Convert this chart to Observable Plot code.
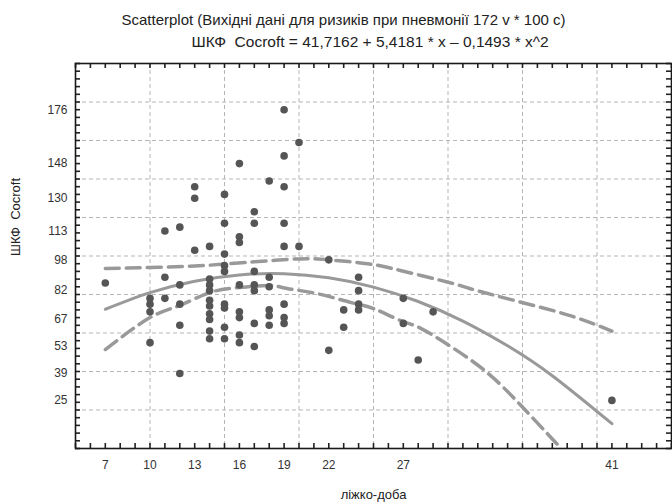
<!DOCTYPE html>
<html><head><meta charset="utf-8">
<script src="https://cdn.jsdelivr.net/npm/d3@7"></script>
<script src="https://cdn.jsdelivr.net/npm/@observablehq/plot@0.6"></script>
<style>
body{margin:0;background:#fff;font-family:"Liberation Sans",Arial,sans-serif;}
</style></head><body><div id="chart"></div>
<script>
const title1 = "Scatterplot (Вихідні дані для ризиків при пневмонії 172 v * 100 c)";
const title2 = "ШКФ\u00A0 Cocroft = 41,7162 + 5,4181 * x – 0,1493 * x^2";
const xLabel = "ліжко-доба";
const yLabel = "ШКФ\u00A0 Cocroft";
const xTickLabels = [7, 10, 13, 16, 19, 22, 27, 41];
const yTickLabels = [25, 39, 53, 67, 82, 98, 113, 130, 148, 176];

// observations: bed-days and ШКФ Cocroft
const pointX = [
  7,
  10, 10, 10, 10,
  11, 11, 11,
  12, 12, 12, 12, 12,
  13, 13, 13,
  14, 14, 14, 14, 14, 14, 14, 14, 14, 14,
  15, 15, 15, 15, 15, 15, 15, 15, 15,
  16, 16, 16, 16, 16, 16, 16, 16,
  17, 17, 17, 17, 17, 17, 17,
  18, 18, 18, 18, 18, 18,
  19, 19, 19, 19, 19, 19, 19, 19,
  20, 20,
  22, 22,
  23, 23,
  24, 24, 24, 24,
  27, 27,
  28,
  29,
  41
];
const pointY = [
  86,
  78, 75, 71, 55,
  113, 89, 78,
  115, 85, 75, 64, 39,
  136, 130, 103,
  105, 88, 85, 82, 77, 74, 70, 67, 61, 57,
  132, 117, 101, 95, 92, 75, 73, 63, 57,
  148, 110, 107, 85, 71, 68, 59, 55,
  123, 117, 92, 85, 82, 65, 53,
  139, 89, 84, 72, 69, 64,
  176, 152, 136, 117, 105, 75, 68, 65,
  159, 105,
  98, 51,
  72, 63,
  89, 82, 75, 72,
  78, 65,
  46,
  71,
  25
];

// fitted quadratic (coefficients from the title)
const fitCoef = [41.7162, 5.4181, -0.1493];
const fitX = [7, 10, 13, 16, 19, 22, 25, 28, 31, 34, 37, 41];

// 95% confidence band
const upperX = [7, 10, 13, 15, 17, 20, 22, 24.6, 26.8, 30.2, 31.5, 34.9, 38.2, 41];
const upperY = [93.5, 94, 94.8, 95.8, 97, 98.5, 98, 96, 92.5, 86, 83, 76, 69, 61];
const lowerX = [7, 10, 12, 14, 16, 18, 19.2, 21.2, 23.5, 25, 26.8, 28.2, 30.4, 32.7, 34.9, 37.6];
const lowerY = [51.4, 68, 74.3, 81, 83.6, 84.7, 83.1, 80.5, 75.8, 72.7, 66.5, 62.3, 51.9, 39, 22.3, 0];

// minor tick positions
const xMinor = d3.range(5, 46, 1);
const yMinor = d3.range(0, 201, 4);

const points = pointX.map((x, i) => ({x, y: pointY[i]}));
const fit = fitX.map(x => ({x, y: fitCoef[0] + fitCoef[1] * x + fitCoef[2] * x * x}));
const upper = upperX.map((x, i) => ({x, y: upperY[i]}));
const lower = lowerX.map((x, i) => ({x, y: lowerY[i]}));

const W = 672, H = 503, mT = 63, mB = 55, mL = 75, mR = 1;
const innerW = W - mL - mR, innerH = H - mT - mB;
const tickLen = 5;

const gridStyle = {stroke: "#b5b5b5", strokeOpacity: 1, strokeDasharray: "4,3", strokeWidth: 1};
const bandStyle = {x: "x", y: "y", curve: "natural", stroke: "#999", strokeWidth: 3.5, strokeDasharray: "14,7", clip: true};
const tickStyle = {stroke: "#222", strokeWidth: 1.6};

const chart = Plot.plot({
  width: W, height: H,
  marginTop: mT, marginBottom: mB, marginLeft: mL, marginRight: mR,
  style: {fontFamily: "Liberation Sans, Arial, sans-serif", fontSize: "12px", color: "#333", background: "#fff"},
  x: {domain: [5, 45]},
  y: {domain: [0, 200]},
  marks: [
    Plot.gridX(d3.range(10, 45, 5), gridStyle),
    Plot.gridY(d3.range(20, 200, 20), gridStyle),
    Plot.line(upper, bandStyle),
    Plot.line(lower, bandStyle),
    Plot.line(fit, {x: "x", y: "y", curve: "natural", stroke: "#999", strokeWidth: 3, clip: true}),
    Plot.dot(points, {x: "x", y: "y", r: 3.8, fill: "#555", stroke: "none"}),
    Plot.tickX(xMinor, {x: d => d, insetTop: innerH - tickLen, ...tickStyle}),
    Plot.tickX(xMinor, {x: d => d, insetBottom: innerH - tickLen, ...tickStyle}),
    Plot.tickY(yMinor, {y: d => d, insetRight: innerW - tickLen, ...tickStyle}),
    Plot.tickY(yMinor, {y: d => d, insetLeft: innerW - tickLen, ...tickStyle}),
    Plot.axisX({anchor: "bottom", ticks: xTickLabels, tickSize: 0, tickPadding: 12, label: null, fill: "#333"}),
    Plot.axisY({anchor: "left", ticks: yTickLabels, tickSize: 0, tickPadding: 8, label: null, fill: "#333"}),
    Plot.frame({stroke: "#1a1a1a", strokeWidth: 1.6}),
    Plot.text([title1], {frameAnchor: "top-left", textAnchor: "start", lineAnchor: "bottom", dx: 46, dy: -39, fontSize: 15, fill: "#222"}),
    Plot.text([title2], {frameAnchor: "top-left", textAnchor: "start", lineAnchor: "bottom", dx: 116, dy: -17, fontSize: 15.5, fill: "#222"}),
    Plot.text([xLabel], {frameAnchor: "bottom", lineAnchor: "bottom", dy: 50, fontSize: 13, fill: "#222"}),
    Plot.text([yLabel], {frameAnchor: "left", dx: -60, rotate: -90, fontSize: 13, fill: "#222"})
  ]
});
document.getElementById("chart").appendChild(chart);
</script></body></html>
